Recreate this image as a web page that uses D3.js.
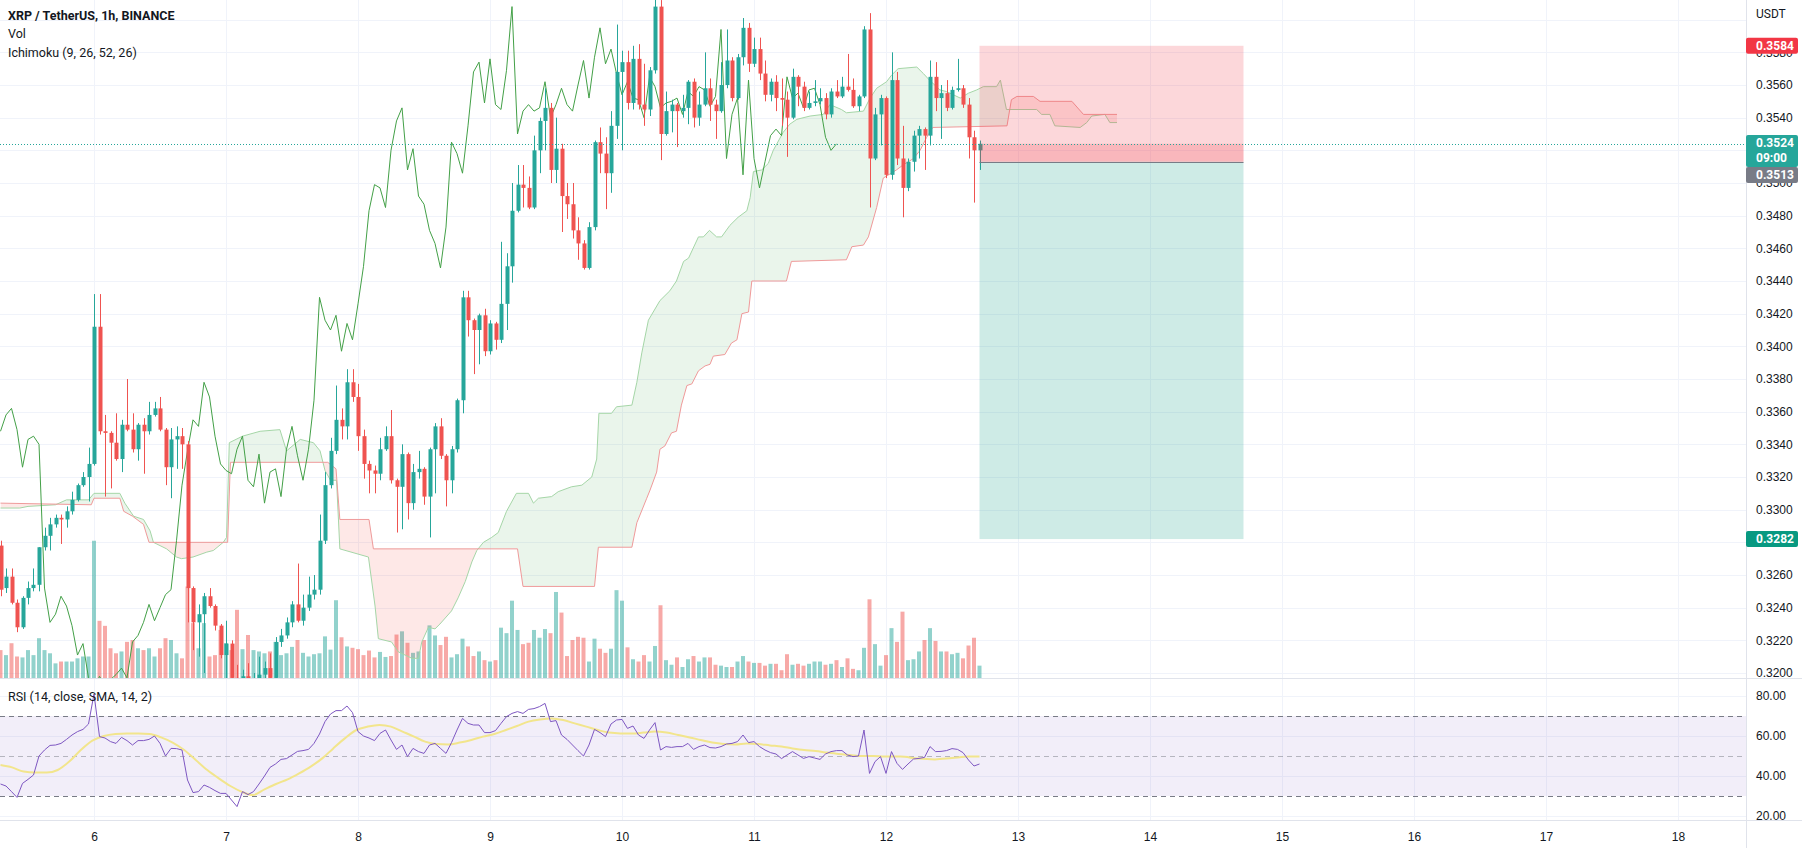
<!DOCTYPE html>
<html><head><meta charset="utf-8">
<script src="https://cdn.jsdelivr.net/npm/d3@7"></script>
<style>
html,body{margin:0;padding:0;background:#fff;overflow:hidden;}
svg{display:block;font-family:Roboto,"Liberation Sans",Arial,sans-serif;}
</style></head><body>
<svg id="c" width="1802" height="848"></svg>
<script>
// ---------------- DATA ----------------
const openP = [.3278,.3252,.3259,.3243,.3228,.3246,.3252,.3254,.3277,.3284,
.3291,.3295,.3294,.3299,.3306,.3315,.3320,.3328,.3412,.3348,
.3347,.3341,.3331,.3352,.3349,.3337,.3352,.3348,.3358,.3362,
.3349,.3326,.3343,.3345,.3340,.3252,.3231,.3236,.3247,.3241,
.3229,.3211,.3218,.3197,.3190,.3198,.3192,.3196,.3199,.3203,
.3197,.3219,.3223,.3231,.3242,.3232,.3240,.3248,.3251,.3281,
.3315,.3336,.3355,.3351,.3378,.3369,.3345,.3328,.3324,.3322,
.3337,.3345,.3318,.3314,.3334,.3304,.3323,.3325,.3308,.3337,
.3351,.3333,.3318,.3337,.3367,.3430,.3416,.3410,.3419,.3397,
.3414,.3404,.3426,.3449,.3483,.3499,.3497,.3485,.3520,.3538,
.3546,.3508,.3521,.3492,.3487,.3471,.3463,.3448,.3473,.3525,
.3518,.3506,.3535,.3568,.3574,.3549,.3576,.3548,.3545,.3569,
.3608,.3530,.3544,.3548,.3544,.3546,.3562,.3540,.3548,.3558,
.3548,.3544,.3560,.3575,.3552,.3577,.3595,.3573,.3582,.3567,
.3554,.3562,.3552,.3551,.3540,.3565,.3559,.3546,.3549,.3550,
.3552,.3542,.3556,.3553,.3559,.3557,.3547,.3553,.3594,.3515,
.3542,.3552,.3505,.3563,.3515,.3497,.3513,.3529,.3533,.3529,
.3565,.3552,.3555,.3546,.3557,.3558,.3548,.3528,.3520];
const highP = [.3281,.3264,.3264,.3245,.3247,.3256,.3264,.3277,.3289,.3295,
.3297,.3297,.3302,.3311,.3316,.3323,.3338,.3432,.3432,.3358,
.3348,.3359,.3355,.3380,.3359,.3353,.3356,.3366,.3366,.3369,
.3350,.3350,.3351,.3350,.3342,.3253,.3242,.3249,.3252,.3242,
.3230,.3232,.3220,.3205,.3202,.3206,.3200,.3210,.3207,.3212,
.3222,.3227,.3234,.3244,.3267,.3248,.3259,.3260,.3297,.3323,
.3344,.3376,.3362,.3386,.3386,.3377,.3349,.3330,.3327,.3344,
.3351,.3361,.3319,.3340,.3335,.3328,.3336,.3326,.3338,.3353,
.3356,.3334,.3339,.3368,.3434,.3434,.3417,.3420,.3423,.3416,
.3415,.3464,.3457,.3500,.3511,.3511,.3504,.3529,.3540,.3558,
.3549,.3540,.3524,.3500,.3500,.3479,.3465,.3476,.3526,.3534,
.3528,.3544,.3597,.3581,.3581,.3584,.3585,.3573,.3571,.3614,
.3612,.3556,.3551,.3549,.3554,.3563,.3564,.3556,.3580,.3564,
.3551,.3574,.3594,.3577,.3579,.3601,.3598,.3589,.3589,.3575,
.3564,.3566,.3564,.3556,.3570,.3566,.3562,.3556,.3563,.3558,
.3555,.3558,.3563,.3565,.3579,.3564,.3554,.3596,.3604,.3546,
.3554,.3553,.3580,.3568,.3535,.3515,.3532,.3535,.3534,.3575,
.3574,.3560,.3563,.3559,.3576,.3560,.3552,.3532,.3526];
const lowP = [.3247,.3249,.3242,.3225,.3227,.3242,.3250,.3250,.3275,.3275,
.3289,.3279,.3289,.3297,.3305,.3314,.3305,.3327,.3346,.3308,
.3313,.3330,.3323,.3348,.3335,.3330,.3322,.3346,.3357,.3348,
.3315,.3307,.3325,.3325,.3231,.3214,.3210,.3200,.3240,.3226,
.3209,.3196,.3190,.3185,.3186,.3188,.3185,.3190,.3195,.3196,
.3194,.3216,.3221,.3228,.3231,.3229,.3238,.3245,.3248,.3279,
.3313,.3334,.3343,.3343,.3366,.3336,.3319,.3310,.3310,.3318,
.3336,.3316,.3286,.3288,.3294,.3300,.3319,.3303,.3283,.3310,
.3331,.3302,.3310,.3335,.3359,.3406,.3383,.3389,.3394,.3395,
.3398,.3402,.3410,.3439,.3482,.3485,.3484,.3484,.3506,.3520,
.3500,.3500,.3470,.3478,.3466,.3453,.3447,.3447,.3471,.3506,
.3484,.3494,.3527,.3520,.3545,.3545,.3545,.3535,.3541,.3567,
.3514,.3529,.3531,.3522,.3540,.3536,.3534,.3535,.3547,.3538,
.3527,.3543,.3558,.3550,.3551,.3572,.3568,.3571,.3563,.3550,
.3550,.3544,.3535,.3516,.3539,.3547,.3544,.3545,.3547,.3548,
.3539,.3540,.3552,.3552,.3556,.3546,.3544,.3552,.3485,.3514,
.3523,.3503,.3502,.3511,.3479,.3495,.3507,.3515,.3508,.3523,
.3544,.3527,.3544,.3545,.3556,.3546,.3515,.3488,.3508];
const closeP = [.3251,.3259,.3243,.3228,.3246,.3252,.3254,.3277,.3284,.3291,
.3295,.3294,.3299,.3306,.3315,.3320,.3328,.3412,.3348,.3347,
.3341,.3331,.3352,.3349,.3337,.3352,.3348,.3358,.3362,.3349,
.3326,.3343,.3345,.3340,.3252,.3231,.3236,.3247,.3241,.3229,
.3211,.3218,.3197,.3190,.3198,.3192,.3196,.3199,.3203,.3197,
.3219,.3223,.3231,.3242,.3232,.3240,.3248,.3251,.3281,.3315,
.3336,.3355,.3351,.3378,.3369,.3345,.3328,.3324,.3322,.3337,
.3345,.3318,.3314,.3334,.3304,.3323,.3325,.3308,.3337,.3351,
.3333,.3318,.3337,.3367,.3430,.3416,.3410,.3419,.3397,.3414,
.3404,.3426,.3449,.3483,.3499,.3497,.3485,.3520,.3538,.3546,
.3508,.3521,.3492,.3487,.3471,.3463,.3448,.3473,.3525,.3518,
.3506,.3535,.3568,.3574,.3549,.3576,.3548,.3545,.3569,.3608,
.3530,.3544,.3548,.3544,.3546,.3562,.3540,.3548,.3558,.3548,
.3544,.3560,.3575,.3552,.3577,.3595,.3573,.3582,.3567,.3554,
.3562,.3552,.3551,.3540,.3565,.3559,.3546,.3549,.3550,.3552,
.3542,.3556,.3553,.3559,.3557,.3547,.3553,.3594,.3515,.3542,
.3552,.3505,.3563,.3515,.3497,.3513,.3529,.3533,.3529,.3565,
.3552,.3555,.3546,.3557,.3558,.3548,.3528,.3520,.3524];
const volume = [6.1,5.0,7.6,4.7,4.5,6.1,5.0,8.7,6.1,5.4,
3.2,3.6,3.6,3.6,4.3,4.7,4.7,30,12.5,11.4,
6.5,5.4,5.8,7.9,8.3,6.5,6.1,6.5,4.7,6.5,
8.7,8.3,5.4,4.3,20,12,6.5,12,4.7,5.0,
10.5,7.6,6.1,14.9,6.3,9.4,6.1,5.8,5.4,5.8,
7.9,5.0,5.4,6.8,8.3,5.5,4.7,5.2,5.4,9.1,
6.2,17,8.9,6.9,6.6,6.3,5.0,6.0,4.5,5.7,
4.6,4.8,9.5,10.2,7.7,5.5,5.8,8.3,11.5,9.3,
7.2,9.0,4.5,5.2,8.6,6.9,4.8,5.8,3.9,3.6,
3.9,11.0,9.8,16.9,10.5,7.4,7.7,10.5,8.8,10.7,
9.8,18.8,14.3,4.8,8.3,9.0,8.8,3.6,8.6,6.4,
5.5,6.4,19.2,16.9,6.7,4.1,3.6,5.0,3.6,7.0,
15.9,3.9,2.9,4.5,2.4,4.1,4.8,3.6,4.5,4.5,
2.9,2.7,2.4,2.4,3.6,4.8,3.6,3.3,3.3,2.7,
3.1,3.1,1.7,5.2,2.9,3.1,2.7,3.1,3.6,3.6,
2.9,3.1,3.9,2.4,4.3,2.0,1.7,6.6,17.2,7.4,
2.7,5.0,10.9,7.9,14.5,3.9,4.1,5.8,8.3,10.9,
8.1,5.8,5.8,5.2,5.5,4.3,7.1,8.8,2.7];
// Ichimoku leading spans: [bar index (incl. 26-bar forward shift), price]
const spanA = [[0,.3301],[3.5,.3301],[5,.3302],[10,.3303],[12,.3306],[16,.3306],[17,.3310],[21.7,.3310],[22.6,.3304],[24.2,.3296],[26,.3294],[27.2,.3287],[27.8,.3280],[30.2,.3276],[32,.3271],[32.9,.3270],[35,.3271],[37.5,.3274],[38.7,.3275],[40.5,.3280],[41.1,.3283],[41.6,.3341],[44,.3345],[47.2,.3348],[50.8,.3349],[52,.3336],[54.5,.3343],[56.9,.3341],[58.1,.3336],[59,.3324],[60,.3318],[61.1,.3318],[61.7,.3276],[66.9,.3271],[68.1,.3241],[68.7,.3221],[71.1,.3219],[72.3,.3213],[74.8,.3209],[76,.3209],[76.6,.3219],[77.8,.3228],[79,.3227],[79.9,.3230],[82,.3238],[83.2,.3246],[84.5,.3256],[85.7,.3268],[86.6,.3275],[87.8,.3280],[89.3,.3283],[90.5,.3286],[92,.3299],[93.8,.3310],[96,.3310],[96.9,.3304],[97.8,.3307],[100.2,.3308],[101.4,.3311],[103.8,.3314],[105.7,.3315],[107.5,.3320],[108.4,.3331],[108.8,.3359],[111.1,.3359],[112,.3363],[114.8,.3364],[115.7,.3378],[116.6,.3396],[117.8,.3416],[119.9,.3428],[121.7,.3434],[122.9,.3440],[124.2,.3452],[125.1,.3454],[126.9,.3467],[127.8,.3467],[128.9,.3471],[130.2,.3467],[131.1,.3467],[132.6,.3474],[134.1,.3479],[135.7,.3483],[136.3,.3491],[136.9,.3507],[138.4,.3508],[139.6,.3512],[140.5,.3520],[142.3,.3531],[143.5,.3536],[144.8,.3539],[147.2,.3541],[149.6,.3542],[150.8,.3548],[152.9,.3545],[153.8,.3543],[156.9,.3544],[158.1,.3552],[159.3,.3558],[161.1,.3562],[162,.3566],[163.2,.3570],[166.6,.3571],[167.8,.3567],[168.9,.3563],[170.8,.3557],[172,.3556],[174.5,.3552],[176,.3555],[177.5,.3557],[178.7,.3559],[181.1,.3559],[181.8,.3563],[182.9,.3545],[188.4,.3545],[189.3,.3542],[190.8,.3542],[191.7,.3535],[196.3,.3534],[197.5,.3537],[198.4,.3541],[200.8,.3542],[201.7,.3537],[203,.3537]];
const spanB = [[0,.3304],[16.5,.3303],[17,.3307],[21.7,.3307],[22.4,.3299],[24,.3296],[26,.3291],[27,.3280],[41.3,.3280],[41.8,.3329],[59.5,.3329],[61,.3325],[61.7,.3294],[67,.3294],[67.8,.3276],[94,.3276],[95,.3253],[108,.3253],[108.7,.3277],[114.8,.3277],[115.7,.3292],[117.5,.3307],[118.1,.3312],[119.3,.3323],[119.9,.3337],[120.8,.3339],[122,.3347],[122.9,.3348],[123.8,.3364],[124.8,.3376],[125.7,.3377],[126.9,.3385],[128.1,.3388],[129,.3389],[129.6,.3394],[131.7,.3395],[132.9,.3402],[133.9,.3404],[134.8,.3420],[136,.3421],[136.6,.3440],[142.9,.3440],[143.8,.3452],[153.8,.3453],[154.8,.3461],[156.9,.3462],[157.8,.3467],[159.3,.3485],[160.5,.3503],[162.9,.3508],[164.1,.3511],[166,.3515],[167.2,.3520],[168.4,.3528],[169.5,.3534],[183,.3535],[183.8,.3551],[184.8,.3553],[187.8,.3553],[189,.3550],[194.8,.3550],[196.9,.3542],[203,.3542]];
const rsi = [36.0,35.0,32.2,29.3,36.3,38.3,40.5,50.0,53.0,55.3,
55.5,56.3,58.3,60.5,62.2,63.3,66.0,81.0,59.7,59.0,
57.2,56.3,59.3,57.7,55.5,57.7,57.7,58.3,60.0,56.3,
50.0,53.8,53.7,53.0,38.0,31.7,32.2,35.5,34.3,32.7,
31.3,31.3,28.0,24.7,32.2,30.7,32.2,36.0,40.0,44.3,
46.0,48.3,48.7,50.5,52.3,52.7,53.3,56.3,61.0,67.2,
71.0,72.7,72.7,75.0,71.7,62.2,60.0,59.0,57.7,61.3,
63.0,58.0,53.3,55.5,49.7,53.8,52.2,51.3,55.5,56.3,
53.8,51.3,56.7,63.0,68.8,66.3,65.5,65.5,61.7,61.7,
62.7,66.3,69.7,71.3,72.2,71.3,73.3,73.7,74.7,76.3,
67.2,67.7,60.5,58.3,55.5,52.7,50.0,55.5,63.3,61.7,
59.7,66.0,68.0,68.3,63.8,65.0,60.5,58.8,63.0,66.7,
53.0,54.7,54.3,54.7,54.7,56.3,53.3,54.7,55.5,54.2,
54.0,54.7,56.0,56.3,57.2,60.5,56.7,57.2,54.7,53.0,
51.7,51.0,48.7,50.5,52.2,50.5,48.8,49.7,49.0,48.3,
51.0,52.2,52.7,52.7,50.5,49.7,50.0,63.0,41.3,47.2,
49.7,41.3,52.2,46.3,43.3,46.0,48.5,48.8,49.3,54.7,
52.2,52.3,52.7,53.7,53.3,51.7,48.0,45.0,46.0];
const rsiSma = [[0,45.5],[2.1,44.3],[4.2,42.2],[6.3,41.7],[8.4,41.7],[10.4,43.0],[12.5,47.2],[14.6,53.0],[16.7,57.7],[18.8,60.0],[20.9,61.0],[23,61.3],[25.1,61.3],[27.1,61.0],[29.2,59.3],[31.3,56.7],[33.4,53.0],[35.5,48.0],[37.6,43.0],[39.7,38.8],[41.8,35.0],[43.8,32.2],[45.9,30.5],[48,33.3],[50.1,36.0],[52.2,38.3],[54.3,41.3],[56.4,44.7],[58.5,48.8],[60.5,53.8],[62.6,58.8],[64.7,63.0],[66.8,64.7],[68.9,65.5],[71,64.7],[73.1,62.2],[75.2,59.7],[77.2,57.2],[79.3,56.0],[81.4,55.8],[83.5,56.7],[85.6,58.0],[87.7,59.7],[89.8,61.0],[91.9,63.0],[93.9,65.0],[96,67.2],[98.1,68.3],[100.2,68.8],[102.3,68.0],[104.4,66.3],[106.5,64.7],[108.6,63.0],[110.6,61.7],[112.7,61.3],[114.8,61.3],[116.9,61.7],[119,62.2],[121.1,61.7],[123.2,60.5],[125.3,59.3],[127.3,58.0],[129.4,56.7],[131.5,56.0],[133.6,55.8],[135.7,56.3],[137.8,56.0],[139.9,55.3],[142,54.7],[144,53.8],[146.1,53.0],[148.2,52.5],[150.3,51.7],[152.4,51.0],[154.5,50.5],[156.6,50.0],[158.7,50.0],[160.7,49.7],[163.6,49.7],[166.8,48.7],[169.9,48.3],[173,49.0],[176.2,49.7],[178,49.7]];
const dayTicks = [6,7,8,9,10,11,12,13,14,15,16,17,18];
const priceTicks = [0.3200,0.3220,0.3240,0.3260,0.3280,0.3300,0.3320,0.3340,0.3360,0.3380,0.3400,0.3420,0.3440,0.3460,0.3480,0.3500,0.3520,0.3540,0.3560,0.3580];
const hiddenPriceLabels = [0.3520]; // fully covered by the last-price tag in the original
const gridPrices = priceTicks.concat([0.3600]);
const rsiTicks = [20,40,60,80];
const rsiLevels = [70,50,30];
const position = {stop:0.3584, entry:0.3513, target:0.3282, last:0.3524, startBar:178, endBar:226};
const lagShift = 26;

// ---------------- SCALES ----------------
const H = 3600e3;
const t0 = Date.UTC(2023,5,5,7);
const tk = k => new Date(t0 + k*H);
const x = d3.scaleTime().domain([new Date(Date.UTC(2023,5,6)), new Date(Date.UTC(2023,5,7))]).range([94,226]);
const yP = d3.scaleLinear().domain([0.32,0.356]).range([673,85]);
const yV = d3.scaleLinear().domain([0,40]).range([678,495]);
const yR = d3.scaleLinear().domain([20,80]).range([816,696]);
const PW = 1746, PB = 678, RT = 679, RB = 820;

const svg = d3.select("#c");
const defs = svg.append("defs");
defs.append("clipPath").attr("id","cp").append("rect").attr("x",0).attr("y",0).attr("width",PW).attr("height",PB);
defs.append("clipPath").attr("id","cr").append("rect").attr("x",0).attr("y",RT).attr("width",PW).attr("height",RB-RT);

// grid
const g0 = svg.append("g");
g0.selectAll(".hg").data(gridPrices).join("line")
  .attr("x1",0).attr("x2",PW).attr("y1",d=>Math.round(yP(d))+0.5).attr("y2",d=>Math.round(yP(d))+0.5)
  .attr("stroke","#f0f3fa").attr("clip-path","url(#cp)");
g0.selectAll(".rg").data(rsiTicks).join("line")
  .attr("x1",0).attr("x2",PW).attr("y1",d=>Math.round(yR(d))+0.5).attr("y2",d=>Math.round(yR(d))+0.5)
  .attr("stroke","#f0f3fa");
g0.selectAll(".vg").data(dayTicks).join("line")
  .attr("x1",d=>Math.round(x(new Date(Date.UTC(2023,5,d))))+0.5).attr("x2",d=>Math.round(x(new Date(Date.UTC(2023,5,d))))+0.5)
  .attr("y1",0).attr("y2",RB).attr("stroke","#f0f3fa");

// price pane
const gp = svg.append("g").attr("clip-path","url(#cp)");

// volume
const bars = closeP.map((c,i)=>({i,o:openP[i],h:highP[i],l:lowP[i],c,v:volume[i],up:c>=openP[i]}));
gp.append("g").selectAll("rect").data(bars).join("rect")
  .attr("x",d=>x(tk(d.i))-2).attr("width",4)
  .attr("y",d=>yV(d.v)).attr("height",d=>yV(0)-yV(d.v))
  .attr("fill",d=>d.up?"rgba(38,166,154,0.5)":"rgba(239,83,80,0.5)");

// cloud
const ptA = spanA.map(d=>[x(tk(d[0])), yP(d[1])]);
const ptB = spanB.map(d=>[x(tk(d[0])), yP(d[1])]);
const aboveB = d3.area().x(d=>d[0]).y0(-10).y1(d=>d[1]);
const belowB = d3.area().x(d=>d[0]).y0(d=>d[1]).y1(900);
defs.append("clipPath").attr("id","abB").append("path").attr("d",aboveB(ptB));
defs.append("clipPath").attr("id","blB").append("path").attr("d",belowB(ptB));
const poly = d3.line()(ptA.concat(ptB.slice().reverse())) + "Z";
gp.append("path").attr("d",poly).attr("fill","rgba(67,160,71,0.11)").attr("clip-path","url(#abB)");
gp.append("path").attr("d",poly).attr("fill","rgba(244,67,54,0.12)").attr("clip-path","url(#blB)");
gp.append("path").attr("d",d3.line()(ptA)).attr("fill","none").attr("stroke","#a5d6a7").attr("stroke-width",1);
gp.append("path").attr("d",d3.line()(ptB)).attr("fill","none").attr("stroke","#ef9a9a").attr("stroke-width",1);

// lagging span
const lag = closeP.slice(lagShift).map((c,i)=>[x(tk(i)), yP(c)]);
gp.append("path").attr("d",d3.line()(lag)).attr("fill","none").attr("stroke","#43a047").attr("stroke-width",1);

// candles
const gc = gp.append("g");
gc.selectAll("line").data(bars).join("line")
  .attr("x1",d=>Math.round(x(tk(d.i)))+0.5).attr("x2",d=>Math.round(x(tk(d.i)))+0.5)
  .attr("y1",d=>yP(d.h)).attr("y2",d=>yP(d.l))
  .attr("stroke",d=>d.up?"#26a69a":"#ef5350").attr("stroke-width",1);
gc.selectAll("rect").data(bars).join("rect")
  .attr("x",d=>Math.round(x(tk(d.i)))-1.5).attr("width",4)
  .attr("y",d=>yP(Math.max(d.o,d.c))).attr("height",d=>Math.max(1,Math.abs(yP(d.o)-yP(d.c))))
  .attr("fill",d=>d.up?"#26a69a":"#ef5350");

// position tool (short)
const px0 = x(tk(position.startBar)), px1 = x(tk(position.endBar));
gp.append("rect").attr("x",px0).attr("width",px1-px0).attr("y",yP(position.stop)).attr("height",yP(position.entry)-yP(position.stop)).attr("fill","rgba(242,54,69,0.2)");
gp.append("rect").attr("x",px0).attr("width",px1-px0).attr("y",yP(position.last)).attr("height",yP(position.entry)-yP(position.last)).attr("fill","rgba(242,54,69,0.2)");
gp.append("rect").attr("x",px0).attr("width",px1-px0).attr("y",yP(position.entry)).attr("height",yP(position.target)-yP(position.entry)).attr("fill","rgba(8,153,129,0.2)");
gp.append("line").attr("x1",px0).attr("x2",px1).attr("y1",Math.round(yP(position.entry))+0.5).attr("y2",Math.round(yP(position.entry))+0.5).attr("stroke","#787b86");

// last price dotted line
gp.append("line").attr("x1",0).attr("x2",PW).attr("y1",Math.round(yP(position.last))+0.5).attr("y2",Math.round(yP(position.last))+0.5)
  .attr("stroke","#26a69a").attr("stroke-dasharray","1,2");

// RSI pane
const gr = svg.append("g").attr("clip-path","url(#cr)");
gr.append("rect").attr("x",0).attr("width",PW).attr("y",yR(70)).attr("height",yR(30)-yR(70)).attr("fill","rgba(126,87,194,0.1)");
gr.selectAll(".lv").data(rsiLevels).join("line")
  .attr("x1",0).attr("x2",PW).attr("y1",d=>Math.round(yR(d))+0.5).attr("y2",d=>Math.round(yR(d))+0.5)
  .attr("stroke","#787b86").attr("stroke-opacity",d=>d===50?0.5:1).attr("stroke-dasharray","5,4");
gr.append("path").attr("d",d3.line().curve(d3.curveMonotoneX)(rsiSma.map(d=>[x(tk(d[0])),yR(d[1])])))
  .attr("fill","none").attr("stroke","#f2e58c").attr("stroke-width",2);
gr.append("path").attr("d",d3.line()(rsi.map((v,i)=>[x(tk(i)),yR(v)])))
  .attr("fill","none").attr("stroke","#7e57c2").attr("stroke-width",1);

// separators
svg.append("line").attr("x1",0).attr("x2",1802).attr("y1",PB+0.5).attr("y2",PB+0.5).attr("stroke","#e0e3eb");
svg.append("line").attr("x1",0).attr("x2",1802).attr("y1",RB+0.5).attr("y2",RB+0.5).attr("stroke","#e0e3eb");
svg.append("line").attr("x1",PW+0.5).attr("x2",PW+0.5).attr("y1",0).attr("y2",848).attr("stroke","#e0e3eb");

// axes
const ax = svg.append("g").attr("transform",`translate(0,${RB})`)
  .call(d3.axisBottom(x).tickValues(dayTicks.map(d=>new Date(Date.UTC(2023,5,d)))).tickFormat(d3.utcFormat("%-d")).tickSize(0).tickPadding(12));
ax.select(".domain").remove();
ax.selectAll("text").attr("font-size",12).attr("fill","#131722").attr("font-family",null);

const ayP = svg.append("g").attr("transform",`translate(${PW+4},0)`)
  .call(d3.axisRight(yP).tickValues(priceTicks.filter(p=>!hiddenPriceLabels.includes(p))).tickFormat(d3.format(".4f")).tickSize(0).tickPadding(6));
ayP.select(".domain").remove();
ayP.selectAll("text").attr("font-size",12).attr("fill","#131722").attr("font-family",null);

const ayR = svg.append("g").attr("transform",`translate(${PW+4},0)`)
  .call(d3.axisRight(yR).tickValues(rsiTicks).tickFormat(d3.format(".2f")).tickSize(0).tickPadding(6));
ayR.select(".domain").remove();
ayR.selectAll("text").attr("font-size",12).attr("fill","#131722").attr("font-family",null);

svg.append("text").attr("x",1756).attr("y",18).attr("font-size",12).attr("fill","#131722").text("USDT");

// price tags
function tag(yc, h, fill, lines){
  const g = svg.append("g");
  g.append("rect").attr("x",PW).attr("y",yc-h/2).attr("width",52).attr("height",h).attr("rx",2).attr("fill",fill);
  lines.forEach((t,i)=>{
    g.append("text").attr("x",1756).attr("y",yc-h/2+12+i*15).attr("font-size",12).attr("font-weight","bold").attr("fill","#fff").text(t);
  });
}
tag(yP(position.stop), 16, "#f23645", [d3.format(".4f")(position.stop)]);
tag(151, 32, "#26a69a", [d3.format(".4f")(position.last), "09:00"]);
tag(175, 16, "#787b86", [d3.format(".4f")(position.entry)]);
tag(yP(position.target), 16, "#089981", [d3.format(".4f")(position.target)]);

// legends
const lg = svg.append("g").attr("font-size",12.5).attr("fill","#131722");
lg.append("text").attr("x",8).attr("y",20).attr("font-weight","bold").text("XRP / TetherUS, 1h, BINANCE");
lg.append("text").attr("x",8).attr("y",38).text("Vol");
lg.append("text").attr("x",8).attr("y",57).text("Ichimoku (9, 26, 52, 26)");
lg.append("text").attr("x",8).attr("y",701).text("RSI (14, close, SMA, 14, 2)");
</script>
</body></html>
